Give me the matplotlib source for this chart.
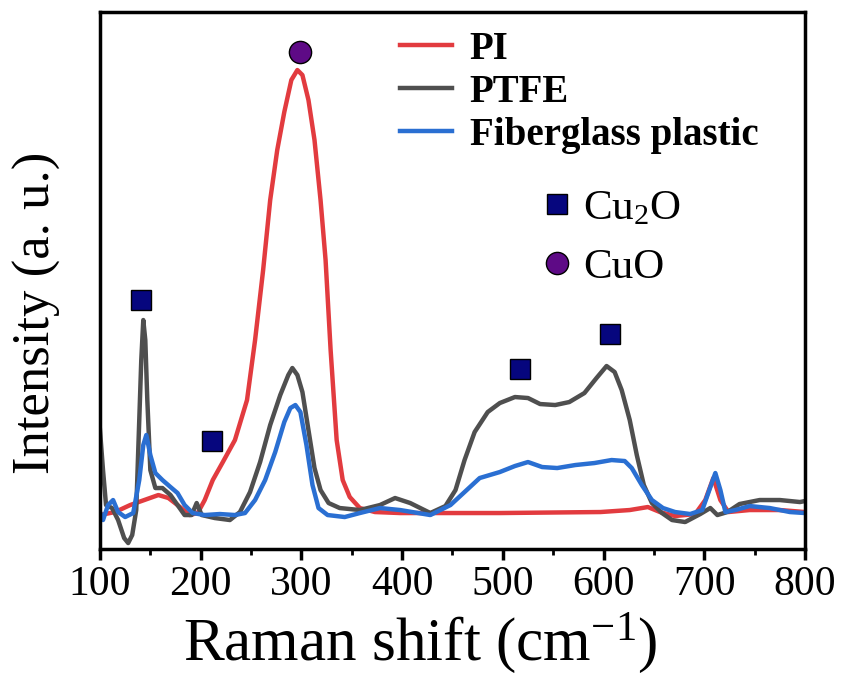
import matplotlib
matplotlib.use("Agg")
import matplotlib.pyplot as plt
from matplotlib.lines import Line2D
from matplotlib.ticker import MultipleLocator

plt.rcParams['font.family'] = ['Liberation Serif', 'DejaVu Serif']
plt.rcParams['mathtext.fontset'] = 'custom'
plt.rcParams['mathtext.rm'] = 'Liberation Serif'
plt.rcParams['mathtext.default'] = 'regular'

## data (Raman shift in cm-1, intensity in a.u.) ###############################
pi_x = [100, 115, 130, 144, 158, 168, 177, 189, 197, 204, 212, 222, 234, 246, 254,
        262, 269, 276, 283, 290, 296, 301, 307, 313, 319, 324, 329, 335, 341, 348,
        358, 373, 398, 497, 597, 626, 644, 656, 671, 691, 701, 709, 716, 724, 745,
        775, 800]
pi_y = [34, 37, 44, 49, 54, 51, 44, 34, 36, 49, 69, 87, 109, 149, 209,
        279, 349, 399, 437, 469, 479, 474, 449, 409, 349, 289, 199, 109, 69, 52,
        41, 37, 36, 36, 37, 39, 42, 37, 33, 35, 49, 71, 49, 37, 39,
        39, 37]

ptfe_x = [100, 103, 106, 112, 118, 124, 128, 132, 136, 139, 141, 143, 145, 147, 150,
          155, 162, 170, 177, 184, 191, 196, 201, 214, 229, 239, 249, 259, 269, 279,
          287, 291, 296, 301, 307, 313, 319, 327, 338, 358, 378, 393, 408, 428, 443,
          453, 462, 472, 485, 497, 512, 525, 537, 552, 566, 581, 593, 603, 611, 618,
          626, 633, 640, 648, 658, 668, 681, 696, 706, 713, 723, 735, 755, 775, 795,
          800]
ptfe_y = [119, 79, 44, 41, 29, 11, 6, 14, 39, 129, 189, 229, 209, 149, 79,
          61, 61, 54, 44, 34, 34, 46, 34, 31, 29, 37, 57, 87, 124, 154,
          174, 181, 174, 157, 119, 81, 59, 46, 41, 39, 44, 51, 46, 36, 43,
          59, 89, 117, 137, 146, 152, 151, 145, 144, 147, 156, 171, 183, 177, 159,
          129, 94, 64, 46, 36, 29, 27, 35, 41, 34, 37, 45, 49, 49, 47,
          48]

fg_x = [100, 103, 108, 113, 118, 125, 133, 139, 143, 146, 150, 155, 162, 170, 177,
        184, 192, 204, 219, 234, 244, 254, 264, 274, 283, 289, 294, 299, 305, 311,
        317, 326, 343, 358, 378, 398, 428, 448, 462, 477, 497, 512, 525, 539, 554,
        572, 591, 608, 621, 628, 638, 648, 659, 671, 686, 698, 705, 711, 716, 721,
        731, 745, 765, 785, 800]
fg_y = [37, 29, 44, 49, 37, 32, 36, 69, 104, 114, 94, 76, 69, 62, 56,
        44, 36, 34, 35, 34, 36, 49, 69, 97, 127, 141, 144, 137, 104, 64,
        41, 34, 32, 36, 41, 39, 34, 44, 57, 71, 77, 83, 87, 82, 81,
        84, 86, 89, 88, 81, 64, 49, 41, 37, 35, 39, 59, 76, 59, 37,
        39, 43, 41, 37, 36]

cu2o_x = [141, 211, 517, 606]
cu2o_y = [249, 108, 180, 215]
cuo_x = [299]
cuo_y = [497]

red = '#e23b3f'
grey = '#4f4f4f'
blue = '#2a6fd2'
navy = '#06067e'
purple = '#5e0a86'

fig = plt.figure(figsize=(8.43, 6.73), dpi=100)
ax = fig.add_axes([0.1186, 0.1842, 0.8363, 0.7979])

l1, = ax.plot(pi_x, pi_y, color=red, lw=3.2, label='PI')
l2, = ax.plot(ptfe_x, ptfe_y, color=grey, lw=3.2, label='PTFE')
l3, = ax.plot(fg_x, fg_y, color=blue, lw=3.2, label='Fiberglass plastic')
ax.plot(cu2o_x, cu2o_y, 's', ms=14, mfc=navy, mec='black', mew=1, ls='none')
ax.plot(cuo_x, cuo_y, 'o', ms=16, mfc=purple, mec='black', mew=1, ls='none')

ax.set_xlim(100, 800)
ax.set_ylim(0, 537)
ax.xaxis.set_major_locator(MultipleLocator(100))
ax.xaxis.set_minor_locator(MultipleLocator(50))
ax.set_yticks([])
ax.tick_params(axis='x', which='major', direction='out', length=8, width=2.5,
               labelsize=30, pad=4)
ax.tick_params(axis='x', which='minor', direction='out', length=4, width=2)
for sp in ax.spines.values():
    sp.set_linewidth(2.5)

ax.set_xlabel('Raman shift (cm$^{-1}$)', fontsize=44)
ax.xaxis.set_label_coords(0.454, -0.115)
ax.set_ylabel('Intensity (a. u.)', fontsize=38)
ax.yaxis.set_label_coords(-0.055, 0.44)

leg1 = ax.legend(handles=[l1, l2, l3], loc='upper left', bbox_to_anchor=(0.425, 0.965),
                 frameon=False, prop={'weight': 'bold', 'size': 28},
                 handlelength=1.35, handletextpad=0.45, labelspacing=0.15,
                 borderpad=0, borderaxespad=0)
ax.add_artist(leg1)

mk = [Line2D([], [], marker='s', ms=14, mfc=navy, mec='black', mew=1, ls='none'),
      Line2D([], [], marker='o', ms=16, mfc=purple, mec='black', mew=1, ls='none')]
ax.legend(handles=mk, labels=['Cu$_2$O', 'CuO'], loc='upper left',
          bbox_to_anchor=(0.63, 0.67), frameon=False, fontsize=31,
          handlelength=0.6, handletextpad=0.3, labelspacing=0.45,
          borderpad=0, borderaxespad=0)

fig.savefig('out.png', dpi=100)
